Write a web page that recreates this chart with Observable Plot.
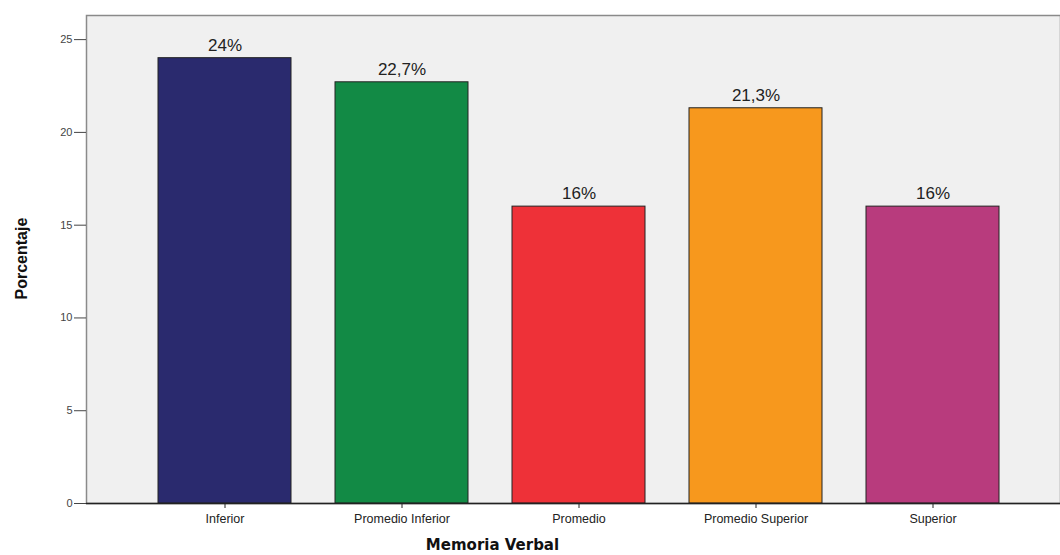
<!DOCTYPE html>
<html><head><meta charset="utf-8">
<script src="https://cdn.jsdelivr.net/npm/d3@7"></script>
<script src="https://cdn.jsdelivr.net/npm/@observablehq/plot@0.6"></script>
<style>body{margin:0;background:#fff;font-family:"Liberation Sans",Arial,sans-serif}</style>
</head><body><div id="chart"></div>
<script>
const categories = ["Inferior", "Promedio Inferior", "Promedio", "Promedio Superior", "Superior"];
const values = [24, 22.7, 16, 21.3, 16];
const labels = ["24%", "22,7%", "16%", "21,3%", "16%"];
const colors = ["#2a2a6e", "#128a45", "#ee3138", "#f7981d", "#b83b7d"];
const yTicks = [0, 5, 10, 15, 20, 25];
const xTitle = ["Memoria Verbal"];
const yTitle = ["Porcentaje"];

const data = categories.map((c, i) => ({cat: c, v: values[i], label: labels[i]}));

const chart = Plot.plot({
  width: 1060, height: 555,
  marginTop: 15, marginBottom: 52, marginLeft: 86, marginRight: 0,
  style: {fontFamily: "'Liberation Sans', Arial, sans-serif", background: "#fff"},
  x: {domain: categories, paddingInner: 0.25, paddingOuter: 0.372, align: 0.54, label: null},
  y: {domain: [0, 26.3], label: null},
  color: {domain: categories, range: colors},
  marks: [
    Plot.frame({fill: "#f0f0f0", stroke: "#8a8a8a", strokeWidth: 1.5}),
    Plot.barY(data, {x: "cat", y: "v", fill: "cat", stroke: "#222", strokeWidth: 1}),
    Plot.text(data, {x: "cat", y: "v", text: "label", dy: -13, fontSize: 17, fill: "#222"}),
    Plot.ruleY([0], {stroke: "#222", strokeWidth: 1.5}),
    Plot.axisY({ticks: yTicks, tickSize: 12, tickPadding: 2, fontSize: 11, color: "#444", label: null}),
    Plot.axisX({tickSize: 5, tickPadding: 6, fontSize: 12.5, color: "#222", label: null}),
    Plot.text(yTitle, {frameAnchor: "left", rotate: -90, dx: -65, dy: 40, fontSize: 16, fontWeight: "bold", fill: "#111"}),
    Plot.text(xTitle, {frameAnchor: "bottom", dx: -81, dy: 46, fontSize: 15, fontWeight: "bold", fontFamily: "'DejaVu Sans', sans-serif", fill: "#111"})
  ]
});
document.getElementById("chart").appendChild(chart);
</script>
</body></html>
